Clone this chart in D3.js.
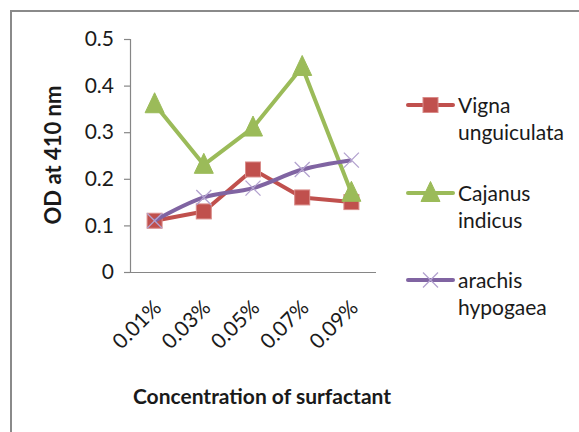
<!DOCTYPE html>
<html>
<head>
<meta charset="utf-8">
<script src="https://cdn.jsdelivr.net/npm/d3@7"></script>
<style>
html,body{margin:0;padding:0;background:#fff;}
svg{display:block;}
text{font-family:Lato, "Open Sans", sans-serif;fill:#1a1a1a;}
</style>
</head>
<body>
<svg id="chart" width="579" height="432"></svg>
<script>
const categories = ["0.01%", "0.03%", "0.05%", "0.07%", "0.09%"];
const vigna = [0.11, 0.13, 0.22, 0.16, 0.15];
const cajanus = [0.36, 0.23, 0.31, 0.44, 0.17];
const arachis = [0.11, 0.16, 0.18, 0.22, 0.24];
const yTicks = [0, 0.1, 0.2, 0.3, 0.4, 0.5];
const seriesNames = [["Vigna", "unguiculata"], ["Cajanus", "indicus"], ["arachis", "hypogaea"]];

const svg = d3.select("#chart");

// outer border
svg.append("rect").attr("x", 11).attr("y", 11).attr("width", 700).attr("height", 700)
  .attr("fill", "#fff").attr("stroke", "#8a8a8a").attr("stroke-width", 2);

const plot = {left: 130, right: 376, top: 39, bottom: 272};
const x = d3.scaleBand().domain(categories).range([plot.left, plot.right]);
const y = d3.scaleLinear().domain([0, 0.5]).range([plot.bottom, plot.top]);
const cx = c => x(c) + x.bandwidth() / 2;

// y axis
const yAxis = d3.axisLeft(y).tickValues(yTicks).tickSize(6).tickPadding(10)
  .tickFormat(d => d === 0 ? "0" : d3.format(".1f")(d));
const gy = svg.append("g").attr("transform", `translate(${plot.left},0)`).call(yAxis);
gy.select(".domain").attr("stroke", "#868686").attr("stroke-width", 1.2);
gy.selectAll(".tick line").attr("stroke", "#868686").attr("stroke-width", 1.2);
gy.selectAll(".tick text").attr("font-size", 21).attr("font-family", "Lato").attr("fill", "#1a1a1a");

// x axis
const xAxis = d3.axisBottom(x).tickSize(0).tickFormat(d => d);
const gx = svg.append("g").attr("transform", `translate(0,${plot.bottom})`).call(xAxis);
gx.select(".domain").attr("stroke", "#868686").attr("stroke-width", 1.2).attr("d", `M${plot.left-6},0.5H${plot.right}`);
gx.selectAll(".tick text")
  .attr("font-size", 21).attr("font-family", "Lato").attr("fill", "#1a1a1a")
  .attr("text-anchor", "end")
  .attr("dy", 0)
  .attr("transform", "translate(8,37) rotate(-45)")
  .attr("y", 0).attr("x", 0);

// axis titles
svg.append("text").attr("transform", `translate(61,155) rotate(-90)`)
  .attr("text-anchor", "middle").attr("font-size", 22).attr("font-weight", "bold").text("OD at 410 nm");
svg.append("text").attr("x", 262).attr("y", 404)
  .attr("text-anchor", "middle").attr("font-size", 21).attr("font-weight", "bold").text("Concentration of surfactant");

const colors = ["#C0504D", "#9BBB59", "#8064A2"];
const data = [vigna, cajanus, arachis];

function drawMarker(g, i, px, py) {
  if (i === 0) {
    g.append("rect").attr("x", px - 7.5).attr("y", py - 7.5).attr("width", 15).attr("height", 15)
      .attr("fill", "#C0504D").attr("stroke", "#d98b89").attr("stroke-width", 1);
  } else if (i === 1) {
    const s = 9.5;
    g.append("path").attr("d", `M${px},${py - s - 2}L${px + s},${py + s - 1}L${px - s},${py + s - 1}Z`)
      .attr("fill", "#9BBB59").attr("stroke", "#9BBB59").attr("stroke-width", 1);
  } else {
    const s = 7.5;
    g.append("path").attr("d", `M${px - s},${py - s}L${px + s},${py + s}M${px + s},${py - s}L${px - s},${py + s}`)
      .attr("stroke", "#b3a2cf").attr("stroke-width", 1.3).attr("fill", "none");
  }
}

data.forEach((vals, i) => {
  const g = svg.append("g");
  const line = d3.line().x((d, j) => cx(categories[j])).y(d => y(d))
    .curve(i === 2 ? d3.curveCatmullRom.alpha(0.5) : d3.curveLinear);
  g.append("path").datum(vals).attr("d", line).attr("fill", "none")
    .attr("stroke", colors[i]).attr("stroke-width", 4).attr("stroke-linejoin", "round");
  vals.forEach((v, j) => drawMarker(g, i, cx(categories[j]), y(v)));
});

// legend
const legY = [105, 193, 280];
seriesNames.forEach((nm, i) => {
  const g = svg.append("g");
  g.append("line").attr("x1", 408).attr("x2", 453).attr("y1", legY[i]).attr("y2", legY[i])
    .attr("stroke", colors[i]).attr("stroke-width", 4).attr("stroke-linecap", "round");
  drawMarker(g, i, 430.5, legY[i]);
  const t = g.append("text").attr("x", 458).attr("y", legY[i] + 8).attr("font-size", 21);
  t.append("tspan").attr("x", 458).text(nm[0]);
  t.append("tspan").attr("x", 458).attr("dy", 27).text(nm[1]);
});
</script>
</body>
</html>
